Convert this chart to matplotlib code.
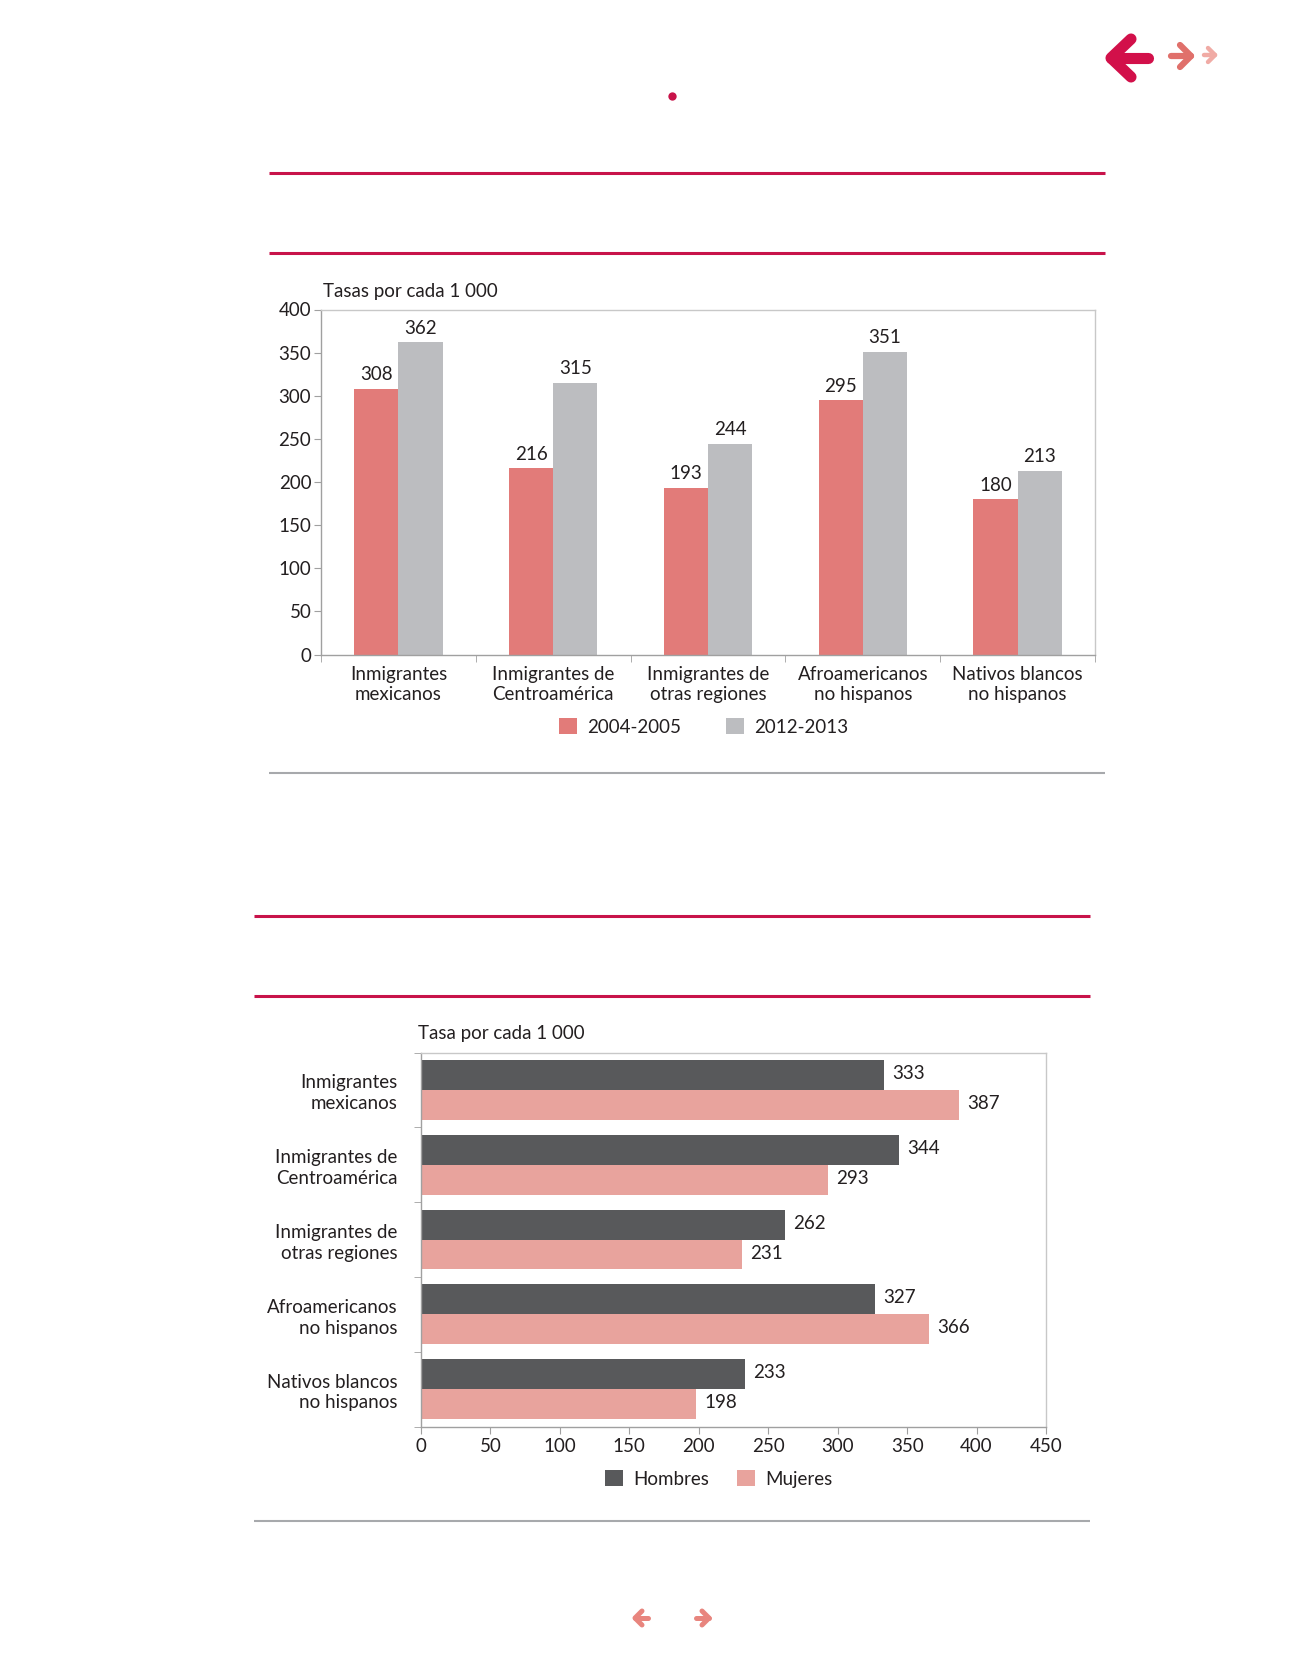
import matplotlib
matplotlib.use("Agg")
import matplotlib.pyplot as plt
import numpy as np

plt.rcParams['font.family'] = ['Lato', 'DejaVu Sans']

# ---------------- data ----------------
top_categories = ["Inmigrantes\nmexicanos", "Inmigrantes de\nCentroamérica",
                  "Inmigrantes de\notras regiones", "Afroamericanos\nno hispanos",
                  "Nativos blancos\nno hispanos"]
top_2004 = [308, 216, 193, 295, 180]
top_2012 = [362, 315, 244, 351, 213]
top_series = ["2004-2005", "2012-2013"]
top_yticks = [0, 50, 100, 150, 200, 250, 300, 350, 400]
top_title = "Tasas por cada 1 000"

bot_categories = ["Inmigrantes\nmexicanos", "Inmigrantes de\nCentroamérica",
                  "Inmigrantes de\notras regiones", "Afroamericanos\nno hispanos",
                  "Nativos blancos\nno hispanos"]
bot_hombres = [333, 344, 262, 327, 233]
bot_mujeres = [387, 293, 231, 366, 198]
bot_series = ["Hombres", "Mujeres"]
bot_xticks = [0, 50, 100, 150, 200, 250, 300, 350, 400, 450]
bot_title = "Tasa por cada 1 000"

# ---------------- style ----------------
W, H = 1312, 1679
RED_BAR = "#E27B79"
GRAY_BAR = "#BCBDC0"
DARK_BAR = "#58595B"
PINK_BAR = "#E8A39D"
CRIMSON = "#C8134A"
RULE_GRAY = "#A7A9AC"
TXT = "#231F20"
FS = 13.5

fig = plt.figure(figsize=(W / 100, H / 100), dpi=100)


def ax_rect(left, top, right, bottom):
    return [left / W, 1 - bottom / H, (right - left) / W, (bottom - top) / H]


# overlay for decorations (pixel coords)
deco = fig.add_axes([0, 0, 1, 1], zorder=-1)
deco.set_xlim(0, W)
deco.set_ylim(H, 0)
deco.axis("off")

# horizontal rules
for y, x0, x1, c, lw in [(172.5, 269, 1105, CRIMSON, 2.2), (253, 269, 1105, CRIMSON, 2.2),
                         (773, 269, 1105, RULE_GRAY, 1.5),
                         (916, 254, 1090, CRIMSON, 2.2), (996, 254, 1090, CRIMSON, 2.2),
                         (1521, 254, 1090, RULE_GRAY, 1.5)]:
    deco.plot([x0, x1], [y, y], color=c, lw=lw, solid_capstyle="butt")

# dot
deco.plot([671.6], [95.5], "o", color=CRIMSON, ms=6, mec="none")


def chevron(tip, arm1, arm2, tail, color, lw):
    kw = dict(color=color, lw=lw, solid_capstyle="round", solid_joinstyle="round")
    deco.plot([arm1[0], tip[0], arm2[0]], [arm1[1], tip[1], arm2[1]], **kw)
    deco.plot([tip[0], tail[0]], [tip[1], tail[1]], **kw)


# top-right navigation arrows
chevron((1111, 58), (1131, 39), (1131, 77), (1148, 58), "#D2104A", 8.0)
chevron((1191, 56), (1180, 45), (1180, 67), (1171, 56), "#E0706B", 4.5)
chevron((1215, 55), (1208, 48), (1208, 62), (1204, 55), "#F0ABA5", 3.2)
# bottom navigation arrows
chevron((635, 1618), (642, 1611), (642, 1625), (648, 1618), "#E8857E", 3.6)
chevron((709, 1618), (702, 1611), (702, 1625), (696, 1618), "#E8857E", 3.6)

# ---------------- top chart ----------------
ax1 = fig.add_axes(ax_rect(321, 309.5, 1095, 654.5))
x = np.arange(len(top_categories))
bw = 0.285
b1 = ax1.bar(x - bw / 2, top_2004, bw, color=RED_BAR, label=top_series[0])
b2 = ax1.bar(x + bw / 2, top_2012, bw, color=GRAY_BAR, label=top_series[1])
for bars in (b1, b2):
    for r in bars:
        ax1.annotate(f"{int(r.get_height())}", (r.get_x() + r.get_width() / 2, r.get_height()),
                     xytext=(0, 4), textcoords="offset points", ha="center", va="bottom",
                     fontsize=FS, color=TXT)
ax1.set_xlim(-0.5, len(top_categories) - 0.5)
ax1.set_ylim(0, 400)
ax1.set_yticks(top_yticks)
ax1.set_xticks(x)
ax1.set_xticklabels(top_categories, fontsize=FS, color=TXT, linespacing=1.22)
ax1.set_xticks(np.arange(len(top_categories) + 1) - 0.5, minor=True)
ax1.tick_params(axis="x", which="major", length=0, pad=8.5)
ax1.tick_params(axis="x", which="minor", length=5, color="#A0A0A0", direction="out")
ax1.tick_params(axis="y", length=5, color="#A0A0A0", labelsize=FS, labelcolor=TXT, pad=2)
for s in ["top", "right"]:
    ax1.spines[s].set_color("#C8C8C8")
for s in ["left", "bottom"]:
    ax1.spines[s].set_color("#A0A0A0")
for s in ax1.spines.values():
    s.set_linewidth(1.0)
fig.text(323 / W, 1 - 291 / H, top_title, fontsize=FS, color=TXT, ha="left", va="center")
fig.legend(handles=[b1, b2], labels=top_series, loc="center", bbox_to_anchor=(704 / W, 1 - 727 / H),
           ncol=2, frameon=False, fontsize=FS, handlelength=0.95, handleheight=0.95,
           handletextpad=0.55, columnspacing=2.4, labelcolor=TXT)

# ---------------- bottom chart ----------------
ax2 = fig.add_axes(ax_rect(421, 1052.5, 1046, 1426.5))
y = np.arange(len(bot_categories))
bh = 0.4
h1 = ax2.barh(y - bh / 2, bot_hombres, bh, color=DARK_BAR, label=bot_series[0])
h2 = ax2.barh(y + bh / 2, bot_mujeres, bh, color=PINK_BAR, label=bot_series[1])
for bars in (h1, h2):
    for r in bars:
        ax2.annotate(f"{int(r.get_width())}", (r.get_width(), r.get_y() + r.get_height() / 2),
                     xytext=(6, 1), textcoords="offset points", ha="left", va="center",
                     fontsize=FS, color=TXT)
ax2.set_ylim(len(bot_categories) - 0.5, -0.5)
ax2.set_xlim(0, 450)
ax2.set_xticks(bot_xticks)
ax2.set_yticks(y)
ax2.set_yticklabels(bot_categories, fontsize=FS, color=TXT, linespacing=1.27, ha="right")
ax2.set_yticks(np.arange(len(bot_categories) + 1) - 0.5, minor=True)
ax2.tick_params(axis="y", which="major", length=0, pad=17)
ax2.tick_params(axis="y", which="minor", length=5, color="#A0A0A0", direction="out")
ax2.tick_params(axis="x", length=5, color="#A0A0A0", labelsize=FS, labelcolor=TXT, pad=3.5)
for s in ["top", "right"]:
    ax2.spines[s].set_color("#C8C8C8")
for s in ["left", "bottom"]:
    ax2.spines[s].set_color("#A0A0A0")
for s in ax2.spines.values():
    s.set_linewidth(1.0)
fig.text(418 / W, 1 - 1034 / H, bot_title, fontsize=FS, color=TXT, ha="left", va="center")
fig.legend(handles=[h1, h2], labels=bot_series, loc="center", bbox_to_anchor=(719 / W, 1 - 1479 / H),
           ncol=2, frameon=False, fontsize=FS, handlelength=0.95, handleheight=0.95,
           handletextpad=0.55, columnspacing=1.5, labelcolor=TXT)

fig.savefig("out.png", dpi=100, facecolor="white")
